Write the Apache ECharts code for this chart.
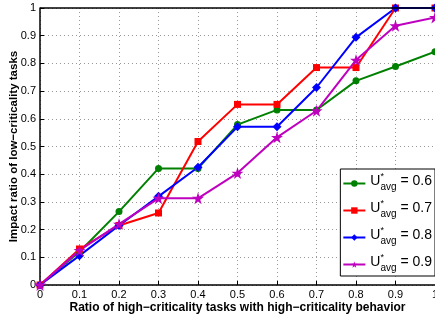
<!DOCTYPE html>
<html>
<head>
<meta charset="utf-8">
<script src="https://cdn.jsdelivr.net/npm/echarts@6/dist/echarts.min.js"></script>
<style>
  html, body { margin: 0; padding: 0; background: #fff; }
  #container { width: 435px; height: 318px; }
</style>
</head>
<body>
<div id="container"></div>
<script>
// valores
var ratios = [0, 0.1, 0.2, 0.3, 0.4, 0.5, 0.6, 0.7, 0.8, 0.9, 1];
var u06 = [0, 0.12, 0.265, 0.421, 0.421, 0.579, 0.632, 0.632, 0.737, 0.789, 0.842];
var u07 = [0, 0.13, 0.215, 0.26, 0.518, 0.652, 0.652, 0.785, 0.785, 1, 1];
var u08 = [0, 0.106, 0.215, 0.32, 0.425, 0.571, 0.571, 0.713, 0.894, 1, 1];
var u09 = [0, 0.125, 0.22, 0.313, 0.313, 0.404, 0.533, 0.629, 0.812, 0.936, 0.966];
var uLabels = ['0.6', '0.7', '0.8', '0.9'];

var starPath = 'path://M50,0 L61,35 L98,35 L68,57 L79,92 L50,71 L21,92 L32,57 L2,35 L39,35 Z';

document.addEventListener('DOMContentLoaded', function () {
    var dom = document.getElementById('container');
    var myChart = echarts.init(dom);

    function pairs(vals) {
        return ratios.map(function (r, i) { return [r, vals[i]]; });
    }

    function makeSeries(name, vals, color, symbol, size) {
        return {
            name: name,
            type: 'line',
            data: pairs(vals),
            symbol: symbol,
            symbolSize: size,
            color: color,
            lineStyle: { width: 2, color: color },
            itemStyle: { color: color },
            animation: false
        };
    }

    var font = 'Liberation Sans, Arial, sans-serif';

    var option = {
        grid: { left: 40, right: 0, top: 8, bottom: 33, show: false, outerBoundsMode: 'none', containLabel: false },
        legend: {
            orient: 'vertical',
            right: 0,
            top: 169,
            itemWidth: 22,
            itemHeight: 8,
            itemGap: 7,
            padding: [3, 3, 3, 2],
            borderColor: '#000',
            borderWidth: 1,
            backgroundColor: '#fff',
            data: uLabels,
            formatter: function (name) {
                return '{u|U}{st|*}{s|avg}{e| = ' + name + '}';
            },
            textStyle: {
                fontFamily: font,
                rich: {
                    u: { fontSize: 14, fontFamily: font, color: '#000', padding: [0, 0, 4, 0] },
                    st: { fontSize: 9, fontFamily: font, color: '#000', width: 0, padding: [0, 0, 14, 0] },
                    s: { fontSize: 10, fontFamily: font, color: '#000', padding: [7, 0, 0, 0] },
                    e: { fontSize: 14, fontFamily: font, color: '#000', padding: [0, 0, 4, 0] }
                }
            }
        },
        xAxis: {
            type: 'value',
            min: 0,
            max: 1,
            interval: 0.1,
            name: 'Ratio of high\u2212criticality tasks with high\u2212criticality behavior',
            nameLocation: 'middle',
            nameGap: 17,
            nameMoveOverlap: false,
            nameTextStyle: { fontFamily: font, fontSize: 12, fontWeight: 'bold', color: '#000' },
            axisLine: { onZero: false, lineStyle: { color: '#000', width: 1.5 } },
            axisTick: { inside: true, length: 4, lineStyle: { color: '#000' } },
            axisLabel: {
                fontFamily: font, fontSize: 11, color: '#000', margin: 4,
                formatter: function (v) { return v === 0 ? '0' : (v === 1 ? '1' : v.toFixed(1)); }
            },
            splitLine: { show: true, lineStyle: { color: '#999', type: [1, 3], width: 1 } }
        },
        yAxis: {
            type: 'value',
            min: 0,
            max: 1,
            interval: 0.1,
            name: 'Impact ratio of low\u2212criticality tasks',
            nameLocation: 'middle',
            nameGap: 20,
            nameMoveOverlap: false,
            nameTextStyle: { fontFamily: font, fontSize: 11.5, fontWeight: 'bold', color: '#000' },
            axisLine: { show: true, onZero: false, lineStyle: { color: '#000', width: 1.5 } },
            axisTick: { show: true, inside: true, length: 4, lineStyle: { color: '#000' } },
            axisLabel: {
                fontFamily: font, fontSize: 11, color: '#000', margin: 4,
                formatter: function (v) { return v === 0 ? '0' : (v === 1 ? '1' : v.toFixed(1)); }
            },
            splitLine: { show: true, lineStyle: { color: '#999', type: [1, 3], width: 1 } }
        },
        series: [
            makeSeries('0.6', u06, '#008000', 'circle', 7),
            makeSeries('0.7', u07, '#ff0000', 'rect', 7),
            makeSeries('0.8', u08, '#0000ff', 'diamond', 9),
            makeSeries('0.9', u09, '#bf00bf', starPath, 12)
        ],
        graphic: [
            // borde superior del recuadro
            { type: 'line', shape: { x1: 40, y1: 8, x2: 435, y2: 8 }, style: { stroke: '#000', lineWidth: 1.5 }, z: 10 }
        ]
    };

    myChart.setOption(option);
    window.addEventListener('resize', myChart.resize);
});
</script>
</body>
</html>
